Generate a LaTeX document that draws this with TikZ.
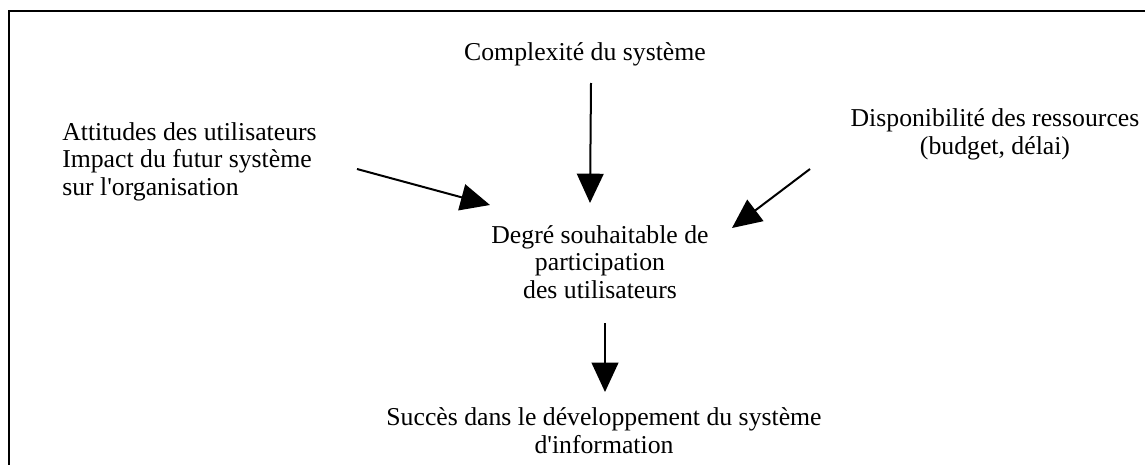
\documentclass[tikz,border=0pt]{standalone}
\usepackage{fontspec}
\setmainfont{Liberation Serif}
\usetikzlibrary{arrows.meta}

\begin{document}
\begin{tikzpicture}[x=0.75pt,y=-0.75pt,
	txt/.style={inner sep=0pt,font=\fontsize{19.3}{20.3}\selectfont},
	fleche/.style={line width=1.5pt,-{Triangle[length=22pt,width=20pt]}}]
	\useasboundingbox (0,0) rectangle (1145,464);
	\clip (0,0) rectangle (1145,464);
	\draw[line width=1.7pt] (9,11) rectangle (1170,490);
	% textes (ancre base = ligne du bas)
	\node[txt,anchor=base] (complex) at (585,60) {Complexit\'e du syst\`eme};
	\node[txt,anchor=base west,align=left] (attitudes) at (62,195) {Attitudes des utilisateurs\\Impact du futur syst\`eme\\sur l\textquotesingle organisation};
	\node[txt,anchor=base,align=center] (ressources) at (995,154) {Disponibilit\'e des ressources\\(budget, d\'elai)};
	\node[txt,anchor=base,align=center] (degre) at (600,298) {Degr\'e souhaitable de\\participation\\des utilisateurs};
	\node[txt,anchor=base,align=center] (succes) at (604,453) {Succ\`es dans le d\'eveloppement du syst\`eme\\d\textquotesingle information};
	% extremites des fleches
	\coordinate (c1) at (591,83);
	\coordinate (c2) at (590,203);
	\coordinate (a1) at (357,169);
	\coordinate (a2) at (490,205);
	\coordinate (r1) at (810,169);
	\coordinate (r2) at (732,228);
	\coordinate (d1) at (605,323);
	\coordinate (d2) at (605,392);
	\draw[fleche] (c1) -- (c2);
	\draw[fleche] (a1) -- (a2);
	\draw[fleche] (r1) -- (r2);
	\draw[fleche] (d1) -- (d2);
\end{tikzpicture}
\end{document}
